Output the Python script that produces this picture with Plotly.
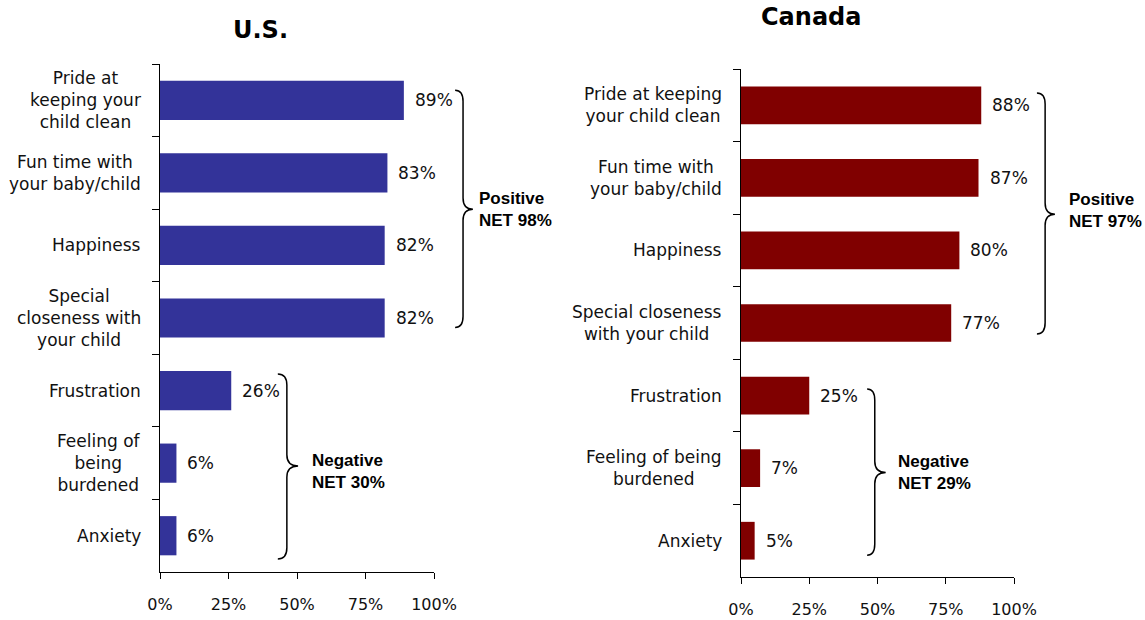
import plotly.graph_objects as go

# ---------------- data ----------------
categories = ["Pride at keeping your child clean", "Fun time with your baby/child",
              "Happiness", "Special closeness with your child", "Frustration",
              "Feeling of being burdened", "Anxiety"]
us_labels = ["Pride at<br>keeping your<br>child clean", "Fun time with<br>your baby/child",
             "Happiness", "Special<br>closeness with<br>your child", "Frustration",
             "Feeling of<br>being<br>burdened", "Anxiety"]
ca_labels = ["Pride at keeping<br>your child clean", "Fun time with<br>your baby/child",
             "Happiness", "Special closeness<br>with your child", "Frustration",
             "Feeling of being<br>burdened", "Anxiety"]
us_values = [89, 83, 82, 82, 26, 6, 6]
ca_values = [88, 87, 80, 77, 25, 7, 5]
x_ticks = [0, 25, 50, 75, 100]
x_tick_labels = ["0%", "25%", "50%", "75%", "100%"]
titles = ["U.S.", "Canada"]
group_names = ["Positive", "Negative"]
us_nets = [98, 30]
ca_nets = [97, 29]

# ---------------- style / layout ----------------
US_COLOR = "#333399"
CA_COLOR = "#800000"
LABEL_FONT = "DejaVu Sans, Verdana, sans-serif"
BOLD_FONT = "Liberation Sans, Arial, sans-serif"

W, H = 1145, 620


def fx(px):
    return px / W


def fy(py):
    return 1 - py / H


n = len(categories)

# brace geometry (x in axis-domain fraction, y in category index units)
# (curl x, vertical x, tip x, text x, top idx, bottom idx, tip idx, text idx)
us_braces = [(1.077, 1.106, 1.142, 1.158, -0.14, 3.13, 1.5, 1.5),
             (0.430, 0.463, 0.504, 0.547, 3.77, 6.32, 5.04, 5.11)]
ca_braces = [(1.084, 1.114, 1.150, 1.194, -0.17, 3.15, 1.5, 1.45),
             (0.462, 0.490, 0.530, 0.568, 3.91, 6.20, 5.06, 5.06)]

fig = go.Figure()

fig.add_trace(go.Bar(x=us_values, y=categories, orientation="h", marker_color=US_COLOR,
                     marker_line_width=0, width=0.54, xaxis="x", yaxis="y",
                     showlegend=False, hoverinfo="skip"))
fig.add_trace(go.Bar(x=ca_values, y=categories, orientation="h", marker_color=CA_COLOR,
                     marker_line_width=0, width=0.52, xaxis="x2", yaxis="y2",
                     showlegend=False, hoverinfo="skip"))

xaxis_common = dict(range=[0, 100], tickvals=x_ticks, ticktext=x_tick_labels,
                    ticks="outside", ticklen=6, tickwidth=1, tickcolor="#000",
                    showline=True, linecolor="#000", linewidth=1, showgrid=False,
                    zeroline=False, automargin=False,
                    tickfont=dict(family=LABEL_FONT, size=16, color="#111"),
                    ticklabelstandoff=12, fixedrange=True)
yaxis_common = dict(type="category", categoryorder="array", categoryarray=categories,
                    range=[n - 0.5, -0.5], tickson="boundaries", ticks="outside",
                    ticklen=7, tickwidth=1, tickcolor="#000", showline=True,
                    linecolor="#000", linewidth=1, showgrid=False, zeroline=False,
                    showticklabels=False, automargin=False, fixedrange=True)

fig.update_layout(
    template="none",
    width=W, height=H,
    margin=dict(l=0, r=0, t=0, b=0, pad=0),
    paper_bgcolor="white", plot_bgcolor="white",
    xaxis=dict(domain=[fx(160), fx(434)], anchor="y", **xaxis_common),
    yaxis=dict(domain=[fy(572), fy(64)], anchor="x", **yaxis_common),
    xaxis2=dict(domain=[fx(741), fx(1014)], anchor="y2", **xaxis_common),
    yaxis2=dict(domain=[fy(577), fy(69)], anchor="x2", **yaxis_common),
)


def idx2dom(i):
    return (n - 0.5 - i) / n


annotations = []
shapes = []

panels = [("", us_values, us_labels, us_nets, us_braces, fx(260), fy(30)),
          ("2", ca_values, ca_labels, ca_nets, ca_braces, fx(811), fy(17))]
for k, (sfx, vals, labels, nets, braces, tx, ty) in enumerate(panels):
    xr, yr = "x" + sfx, "y" + sfx
    annotations.append(dict(text="<b>" + titles[k] + "</b>", xref="paper", yref="paper",
                            x=tx, y=ty, xanchor="center", yanchor="middle", showarrow=False,
                            font=dict(family=LABEL_FONT, size=24, color="#000")))
    for cat, lab in zip(categories, labels):
        annotations.append(dict(text=lab, xref=xr + " domain", yref=yr, x=0, y=cat,
                                xanchor="right", yanchor="middle", align="center",
                                xshift=-17, showarrow=False,
                                font=dict(family=LABEL_FONT, size=17, color="#111")))
    for cat, v in zip(categories, vals):
        annotations.append(dict(text=f"{v}%", xref=xr, yref=yr, x=v, y=cat,
                                xanchor="left", yanchor="middle", xshift=9, showarrow=False,
                                font=dict(family=LABEL_FONT, size=17, color="#111")))
    for g, (name, net) in enumerate(zip(group_names, nets)):
        xc, xv, xt, xtxt, it, ib, im, itx = braces[g]
        yt, yb, ym = idx2dom(it), idx2dom(ib), idx2dom(im)
        ry = 0.022
        path = (f"M {xc},{yt} Q {xv},{yt} {xv},{yt - ry} L {xv},{ym + ry} "
                f"Q {xv},{ym} {xt},{ym} Q {xv},{ym} {xv},{ym - ry} "
                f"L {xv},{yb + ry} Q {xv},{yb} {xc},{yb}")
        shapes.append(dict(type="path", path=path, xref=xr + " domain", yref=yr + " domain",
                           line=dict(color="#000", width=1.5)))
        annotations.append(dict(text=f"<b>{name}<br>NET {net}%</b>", xref=xr + " domain",
                                yref=yr + " domain", x=xtxt, y=idx2dom(itx), xanchor="left",
                                yanchor="middle", align="left", showarrow=False,
                                font=dict(family=BOLD_FONT, size=17, color="#000")))

fig.update_layout(annotations=annotations, shapes=shapes)

# remove the default 8px page margin so the 1145x620 figure fills the window exactly
fig.write_html("out.html", config={"displayModeBar": False},
               post_script="document.body.style.margin='0';document.body.style.overflow='hidden';")
